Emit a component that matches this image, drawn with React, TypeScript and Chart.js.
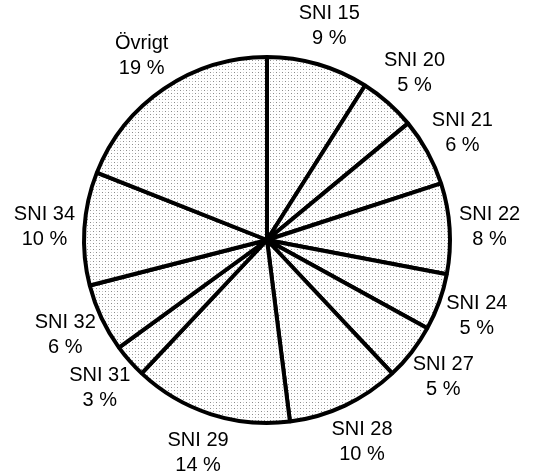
import React, { useEffect, useRef } from "react";
import { Chart, registerables } from "chart.js";

Chart.register(...registerables);

const categories = ["SNI 15", "SNI 20", "SNI 21", "SNI 22", "SNI 24", "SNI 27", "SNI 28", "SNI 29", "SNI 31", "SNI 32", "SNI 34", "Övrigt"];
const shares = [9, 5, 6, 8, 5, 5, 10, 14, 3, 6, 10, 19];
const shareLabels = ["9 %", "5 %", "6 %", "8 %", "5 %", "5 %", "10 %", "14 %", "3 %", "6 %", "10 %", "19 %"];

function makePattern(): CanvasPattern | string {
  const c = document.createElement("canvas");
  c.width = 6;
  c.height = 6;
  const ctx = c.getContext("2d");
  if (!ctx) return "#f2f2f2";
  ctx.fillStyle = "#ffffff";
  ctx.fillRect(0, 0, 6, 6);
  ctx.fillStyle = "#8a8a8a";
  ctx.fillRect(0, 0, 1, 1);
  ctx.fillRect(3, 3, 1, 1);
  ctx.fillStyle = "#c8c8c8";
  ctx.fillRect(0, 3, 1, 1);
  ctx.fillRect(3, 0, 1, 1);
  const p = ctx.createPattern(c, "repeat");
  return p || "#f2f2f2";
}

const labelPlugin = {
  id: "outerLabels",
  afterDraw(chart: any) {
    const ctx = chart.ctx;
    const meta = chart.getDatasetMeta(0);
    ctx.save();
    ctx.fillStyle = "#000";
    ctx.font = '20px "Liberation Sans", Arial, sans-serif';
    ctx.textAlign = "center";
    ctx.textBaseline = "middle";
    meta.data.forEach((arc: any, i: number) => {
      const mid = (arc.startAngle + arc.endAngle) / 2;
      const r = arc.outerRadius + 40;
      const x = arc.x + Math.cos(mid) * r;
      const y = arc.y + Math.sin(mid) * r;
      ctx.fillText(categories[i], x, y - 12);
      ctx.fillText(shareLabels[i], x, y + 13);
    });
    ctx.restore();
  },
};

export default function App() {
  const ref = useRef<HTMLCanvasElement>(null);
  useEffect(() => {
    if (!ref.current) return;
    const pattern = makePattern();
    const chart = new Chart(ref.current, {
      type: "pie",
      data: {
        labels: categories,
        datasets: [
          {
            data: shares,
            backgroundColor: pattern as any,
            borderColor: "#000",
            borderWidth: 4,
          },
        ],
      },
      options: {
        responsive: false,
        animation: false,
        radius: 183,
        layout: { padding: { left: 40, right: 41, top: 54, bottom: 46 } },
        plugins: {
          legend: { display: false },
          tooltip: { enabled: false },
        },
      } as any,
      plugins: [labelPlugin],
    });
    return () => chart.destroy();
  }, []);
  return (
    <div style={{ position: "fixed", left: 0, top: 0, width: 535, height: 472, background: "#fff" }}>
      <canvas ref={ref} width={535} height={472} style={{ width: 535, height: 472 }} />
    </div>
  );
}
